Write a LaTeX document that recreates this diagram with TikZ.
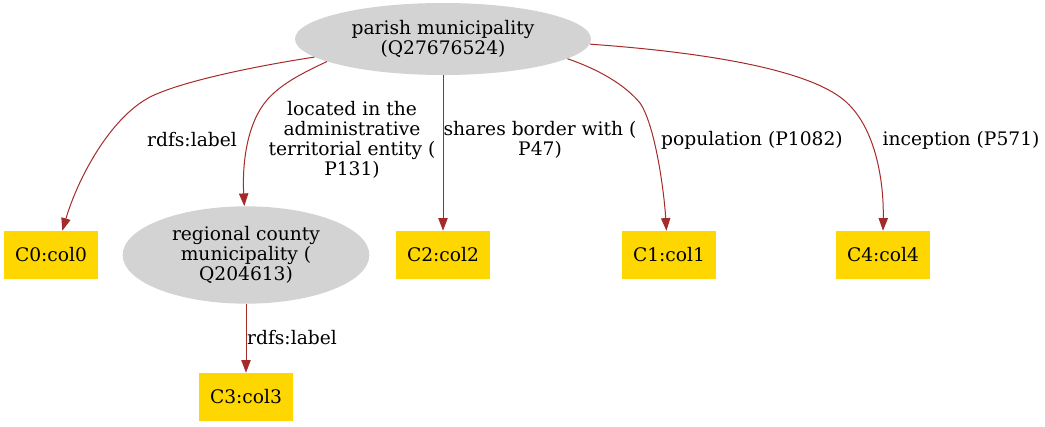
\documentclass[tikz,border=0pt]{standalone}
\usepackage{fontspec}
\setmainfont{DejaVu Serif}
\usetikzlibrary{shapes.geometric,arrows.meta}
\definecolor{edgecol}{HTML}{A52A2A}
\definecolor{nodegray}{HTML}{D3D3D3}
\definecolor{nodegold}{HTML}{FFD700}
\tikzset{
  ell/.style={ellipse,fill=nodegray,inner sep=0pt,align=center},
  colbox/.style={rectangle,fill=nodegold,inner sep=0pt,minimum width=70pt,minimum height=36pt},
  edge/.style={draw=edgecol,line width=0.75pt,-{Triangle[length=9.5pt,width=7pt,fill=edgecol]}},
  elabel/.style={align=center,inner sep=0pt}
}
\begin{document}
\begin{tikzpicture}[x=0.75pt,y=-0.75pt,font=\fontsize{14pt}{15pt}\selectfont]
\useasboundingbox (0,0) rectangle (1045,426);
\node[ell,minimum width=222pt,minimum height=54pt] (parish) at (443,39) {parish municipality\\(Q27676524)};
\node[colbox] (c0) at (51,255) {C0:col0};
\node[ell,minimum width=185pt,minimum height=73pt] (regional) at (246,255) {regional county\\municipality (\\Q204613)};
\node[colbox] (c2) at (443,255) {C2:col2};
\node[colbox] (c1) at (669,255) {C1:col1};
\node[colbox] (c4) at (883,255) {C4:col4};
\node[colbox] (c3) at (246,397) {C3:col3};

\draw[edge] (parish.188) .. controls (250,67) and (180,82) .. (150,97) .. controls (110,118) and (78,178) .. (c0.65);
\draw[edge] (parish.191) .. controls (300,74) and (280,85) .. (267,100) .. controls (248,122) and (242,160) .. (regional.92);
\draw[edge] (parish.south) -- (c2.north);
\draw[edge] (parish.351) .. controls (600,70) and (625,85) .. (640,103) .. controls (655,125) and (664,190) .. (c1.96);
\draw[edge] (parish.358) .. controls (700,52) and (800,68) .. (840,97) .. controls (875,122) and (884,180) .. (c4.north);
\draw[edge] (regional.south) -- (c3.north);

\node[elabel] (l0) at (192,140) {rdfs:label};
\node[elabel] (l1) at (352,140) {located in the\\administrative\\territorial entity (\\P131)};
\node[elabel] (l2) at (540,140) {shares border with (\\P47)};
\node[elabel] (l3) at (752,140) {population (P1082)};
\node[elabel] (l4) at (961,140) {inception (P571)};
\node[elabel] (l5) at (292,338) {rdfs:label};
\end{tikzpicture}
\end{document}
